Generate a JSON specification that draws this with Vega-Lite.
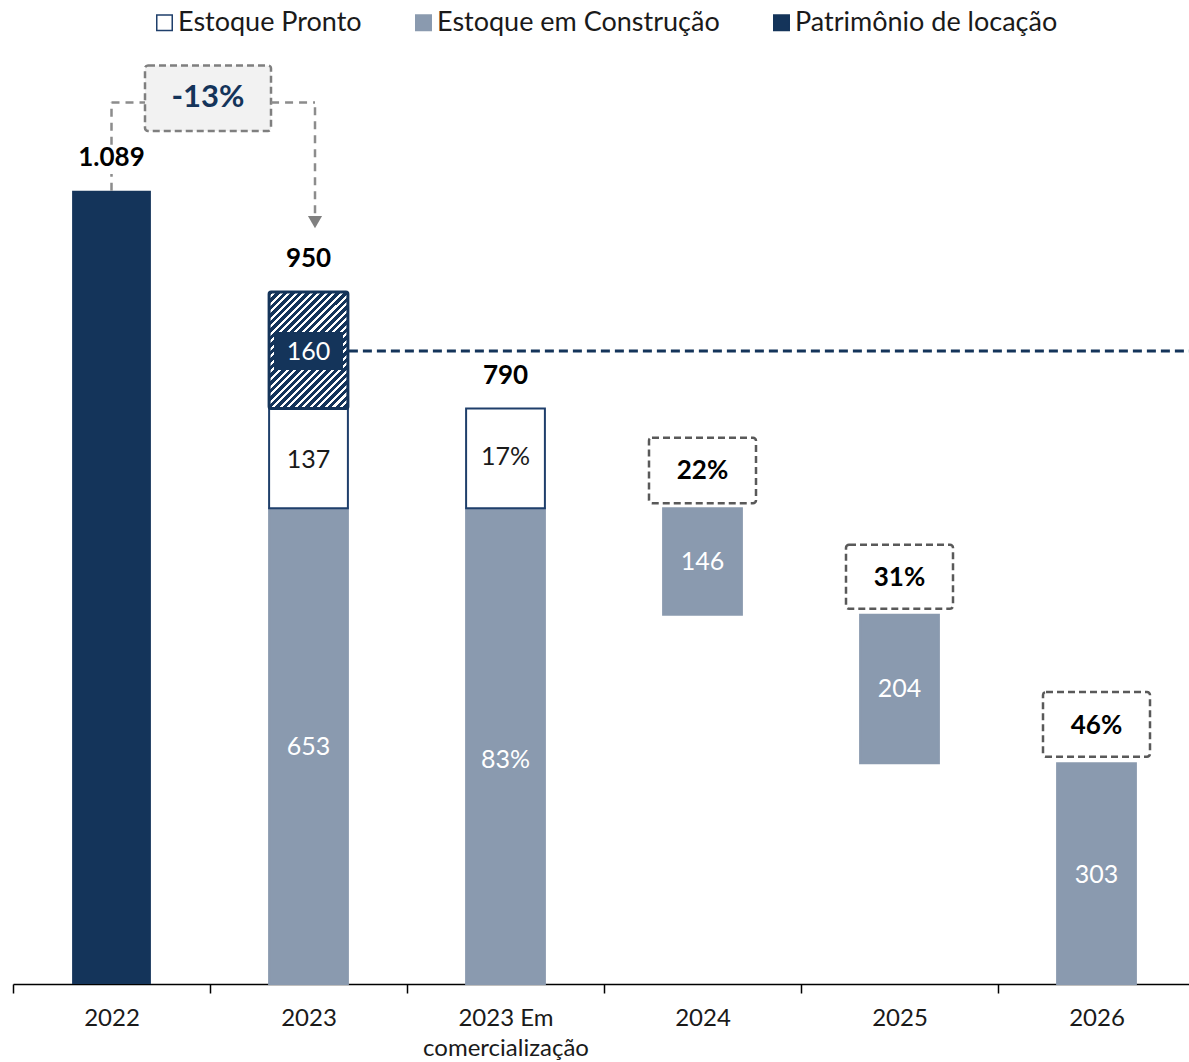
{
  "$schema": "https://vega.github.io/schema/vega-lite/v6.json",
  "width": 1176,
  "height": 947,
  "autosize": {"type": "none"},
  "padding": {"left": 13, "top": 37, "right": 0, "bottom": 78},
  "background": "white",
  "config": {
    "view": {"stroke": null},
    "font": "Lato",
    "axis": {"grid": false},
    "legend": {"padding": 0}
  },
  "encoding": {
    "x": {
      "field": "cat",
      "type": "nominal",
      "sort": ["2022", "2023", "2023 Em comercialização", "2024", "2025", "2026"],
      "scale": {"domain": ["2022", "2023", "2023 Em comercialização", "2024", "2025", "2026"], "range": [0, 1182], "paddingInner": 0, "paddingOuter": 0},
      "axis": {
        "title": null,
        "labelAngle": 0,
        "labelFontSize": 24,
        "labelColor": "#1a1a1a",
        "labelPadding": 13,
        "labelLineHeight": 30,
        "labelBaseline": "top",
        "domainColor": "#000000",
        "domainWidth": 1.5,
        "tickColor": "#000000",
        "tickWidth": 1.5,
        "tickSize": 9,
        "tickBand": "extent",
        "labelExpr": "datum.label == '2023 Em comercialização' ? ['2023 Em', 'comercialização'] : datum.label"
      }
    }
  },
  "layer": [
    {
      "data": {"values": [{"cat": "2022", "lo": 0, "hi": 1089}]},
      "mark": {"type": "bar", "width": {"band": 0.4}, "color": "#14345A"},
      "encoding": {
        "y": {"field": "lo", "type": "quantitative", "scale": {"domain": [0, 1300]}, "axis": null},
        "y2": {"field": "hi"}
      }
    },
    {
      "data": {"values": [
        {"cat": "2023", "lo": 0, "hi": 653, "kind": "Estoque em Construção"},
        {"cat": "2023", "lo": 653, "hi": 790, "kind": "Estoque Pronto"},
        {"cat": "2023 Em comercialização", "lo": 0, "hi": 653, "kind": "Estoque em Construção"},
        {"cat": "2023 Em comercialização", "lo": 653, "hi": 790, "kind": "Estoque Pronto"},
        {"cat": "2024", "lo": 507, "hi": 653, "kind": "Estoque em Construção"},
        {"cat": "2025", "lo": 303, "hi": 507, "kind": "Estoque em Construção"},
        {"cat": "2026", "lo": 0, "hi": 303, "kind": "Estoque em Construção"}
      ]},
      "mark": {"type": "bar", "width": {"band": 0.4}, "strokeWidth": 2},
      "encoding": {
        "y": {"field": "lo", "type": "quantitative", "scale": {"domain": [0, 1300]}, "axis": null},
        "y2": {"field": "hi"},
        "fill": {
          "field": "kind", "type": "nominal",
          "scale": {"domain": ["Estoque Pronto", "Estoque em Construção", "Patrimônio de locação"], "range": ["#ffffff", "#8A9AAF", "#14345A"]},
          "legend": {
            "title": null,
            "orient": "none",
            "direction": "horizontal",
            "legendX": 138,
            "legendY": -28,
            "symbolType": "square",
            "symbolSize": 240,
            "symbolStrokeWidth": 1.5,
            "labelFontSize": 27,
            "labelColor": "#1a1a1a",
            "labelOffset": 0,
            "columnPadding": 48,
            "labelLimit": 400
          }
        },
        "stroke": {
          "field": "kind", "type": "nominal",
          "scale": {"domain": ["Estoque Pronto", "Estoque em Construção", "Patrimônio de locação"], "range": ["#1F3F6B", "#8A9AAF", "#14345A"]},
          "legend": {
            "title": null,
            "orient": "none",
            "direction": "horizontal",
            "legendX": 138,
            "legendY": -28,
            "symbolType": "square",
            "symbolSize": 240,
            "symbolStrokeWidth": 1.5,
            "labelFontSize": 27,
            "labelColor": "#1a1a1a",
            "labelOffset": 0,
            "columnPadding": 48,
            "labelLimit": 400
          }
        }
      }
    },
    {
      "data": {"values": [{"cat": "2023", "lo": 790, "hi": 950, "kind": "Patrimônio de locação"}]},
      "mark": {
        "type": "bar", "width": {"band": 0.4}, "stroke": "#14345A", "strokeWidth": 3, "cornerRadius": 2,
        "fill": {
          "gradient": "linear", "x1": 0, "y1": 0, "x2": 1, "y2": 1.48,
          "stops": [
            {"offset": 0, "color": "#14345A"}, {"offset": 0.018, "color": "#14345A"}, {"offset": 0.018, "color": "#ffffff"}, {"offset": 0.03, "color": "#ffffff"},
            {"offset": 0.03, "color": "#14345A"}, {"offset": 0.048, "color": "#14345A"}, {"offset": 0.048, "color": "#ffffff"}, {"offset": 0.06, "color": "#ffffff"},
            {"offset": 0.06, "color": "#14345A"}, {"offset": 0.078, "color": "#14345A"}, {"offset": 0.078, "color": "#ffffff"}, {"offset": 0.09, "color": "#ffffff"},
            {"offset": 0.09, "color": "#14345A"}, {"offset": 0.108, "color": "#14345A"}, {"offset": 0.108, "color": "#ffffff"}, {"offset": 0.12, "color": "#ffffff"},
            {"offset": 0.12, "color": "#14345A"}, {"offset": 0.138, "color": "#14345A"}, {"offset": 0.138, "color": "#ffffff"}, {"offset": 0.15, "color": "#ffffff"},
            {"offset": 0.15, "color": "#14345A"}, {"offset": 0.168, "color": "#14345A"}, {"offset": 0.168, "color": "#ffffff"}, {"offset": 0.18, "color": "#ffffff"},
            {"offset": 0.18, "color": "#14345A"}, {"offset": 0.198, "color": "#14345A"}, {"offset": 0.198, "color": "#ffffff"}, {"offset": 0.21, "color": "#ffffff"},
            {"offset": 0.21, "color": "#14345A"}, {"offset": 0.228, "color": "#14345A"}, {"offset": 0.228, "color": "#ffffff"}, {"offset": 0.24, "color": "#ffffff"},
            {"offset": 0.24, "color": "#14345A"}, {"offset": 0.258, "color": "#14345A"}, {"offset": 0.258, "color": "#ffffff"}, {"offset": 0.27, "color": "#ffffff"},
            {"offset": 0.27, "color": "#14345A"}, {"offset": 0.288, "color": "#14345A"}, {"offset": 0.288, "color": "#ffffff"}, {"offset": 0.30, "color": "#ffffff"},
            {"offset": 0.30, "color": "#14345A"}, {"offset": 0.318, "color": "#14345A"}, {"offset": 0.318, "color": "#ffffff"}, {"offset": 0.33, "color": "#ffffff"},
            {"offset": 0.33, "color": "#14345A"}, {"offset": 0.348, "color": "#14345A"}, {"offset": 0.348, "color": "#ffffff"}, {"offset": 0.36, "color": "#ffffff"},
            {"offset": 0.36, "color": "#14345A"}, {"offset": 0.378, "color": "#14345A"}, {"offset": 0.378, "color": "#ffffff"}, {"offset": 0.39, "color": "#ffffff"},
            {"offset": 0.39, "color": "#14345A"}, {"offset": 0.408, "color": "#14345A"}, {"offset": 0.408, "color": "#ffffff"}, {"offset": 0.42, "color": "#ffffff"},
            {"offset": 0.42, "color": "#14345A"}, {"offset": 0.438, "color": "#14345A"}, {"offset": 0.438, "color": "#ffffff"}, {"offset": 0.45, "color": "#ffffff"},
            {"offset": 0.45, "color": "#14345A"}, {"offset": 0.468, "color": "#14345A"}, {"offset": 0.468, "color": "#ffffff"}, {"offset": 0.48, "color": "#ffffff"},
            {"offset": 0.48, "color": "#14345A"}, {"offset": 0.498, "color": "#14345A"}, {"offset": 0.498, "color": "#ffffff"}, {"offset": 0.51, "color": "#ffffff"},
            {"offset": 0.51, "color": "#14345A"}, {"offset": 0.528, "color": "#14345A"}, {"offset": 0.528, "color": "#ffffff"}, {"offset": 0.54, "color": "#ffffff"},
            {"offset": 0.54, "color": "#14345A"}, {"offset": 0.558, "color": "#14345A"}, {"offset": 0.558, "color": "#ffffff"}, {"offset": 0.57, "color": "#ffffff"},
            {"offset": 0.57, "color": "#14345A"}, {"offset": 0.588, "color": "#14345A"}, {"offset": 0.588, "color": "#ffffff"}, {"offset": 0.60, "color": "#ffffff"},
            {"offset": 0.60, "color": "#14345A"}, {"offset": 0.618, "color": "#14345A"}, {"offset": 0.618, "color": "#ffffff"}, {"offset": 0.63, "color": "#ffffff"},
            {"offset": 0.63, "color": "#14345A"}, {"offset": 0.648, "color": "#14345A"}, {"offset": 0.648, "color": "#ffffff"}, {"offset": 0.66, "color": "#ffffff"},
            {"offset": 0.66, "color": "#14345A"}, {"offset": 0.678, "color": "#14345A"}, {"offset": 0.678, "color": "#ffffff"}, {"offset": 0.69, "color": "#ffffff"},
            {"offset": 0.69, "color": "#14345A"}, {"offset": 0.708, "color": "#14345A"}, {"offset": 0.708, "color": "#ffffff"}, {"offset": 0.72, "color": "#ffffff"},
            {"offset": 0.72, "color": "#14345A"}, {"offset": 0.738, "color": "#14345A"}, {"offset": 0.738, "color": "#ffffff"}, {"offset": 0.75, "color": "#ffffff"},
            {"offset": 0.75, "color": "#14345A"}, {"offset": 0.768, "color": "#14345A"}, {"offset": 0.768, "color": "#ffffff"}, {"offset": 0.78, "color": "#ffffff"},
            {"offset": 0.78, "color": "#14345A"}, {"offset": 0.798, "color": "#14345A"}, {"offset": 0.798, "color": "#ffffff"}, {"offset": 0.81, "color": "#ffffff"},
            {"offset": 0.81, "color": "#14345A"}, {"offset": 1, "color": "#14345A"}
          ]
        }
      },
      "encoding": {
        "y": {"field": "lo", "type": "quantitative", "scale": {"domain": [0, 1300]}, "axis": null},
        "y2": {"field": "hi"}
      }
    },
    {
      "data": {"values": [{"cat": "2023", "lo": 843, "hi": 895}]},
      "mark": {"type": "bar", "width": {"band": 0.35}, "color": "#14345A"},
      "encoding": {
        "y": {"field": "lo", "type": "quantitative", "scale": {"domain": [0, 1300]}, "axis": null},
        "y2": {"field": "hi"}
      }
    },
    {
      "data": {"values": [
        {"cat": "2023", "ly": 325, "txt": "653", "kind": "Estoque em Construção"},
        {"cat": "2023", "ly": 719, "txt": "137", "kind": "Estoque Pronto"},
        {"cat": "2023", "ly": 868, "txt": "160", "kind": "Patrimônio de locação"},
        {"cat": "2023 Em comercialização", "ly": 307, "txt": "83%", "kind": "Estoque em Construção"},
        {"cat": "2023 Em comercialização", "ly": 723, "txt": "17%", "kind": "Estoque Pronto"},
        {"cat": "2024", "ly": 579, "txt": "146", "kind": "Estoque em Construção"},
        {"cat": "2025", "ly": 405, "txt": "204", "kind": "Estoque em Construção"},
        {"cat": "2026", "ly": 150, "txt": "303", "kind": "Estoque em Construção"}
      ]},
      "mark": {"type": "text", "fontSize": 25, "baseline": "middle", "align": "center"},
      "encoding": {
        "y": {"field": "ly", "type": "quantitative", "scale": {"domain": [0, 1300]}, "axis": null},
        "text": {"field": "txt"},
        "color": {"condition": {"test": "datum.kind == 'Estoque Pronto'", "value": "#1a1a1a"}, "value": "#ffffff"}
      }
    },
    {
      "data": {"values": [
        {"cat": "2022", "top": 1089, "txt": "1.089"},
        {"cat": "2023", "top": 950, "txt": "950"},
        {"cat": "2023 Em comercialização", "top": 790, "txt": "790"}
      ]},
      "mark": {"type": "text", "fontSize": 26, "fontWeight": "bold", "baseline": "middle", "align": "center", "dy": -33, "color": "#000000"},
      "encoding": {
        "y": {"field": "top", "type": "quantitative", "scale": {"domain": [0, 1300]}, "axis": null},
        "text": {"field": "txt"}
      }
    },
    {
      "data": {"values": [
        {"cat": "2024", "lo": 660, "hi": 750},
        {"cat": "2025", "lo": 515, "hi": 603},
        {"cat": "2026", "lo": 312, "hi": 401}
      ]},
      "mark": {"type": "bar", "width": 107, "fill": "#ffffff", "stroke": "#595959", "strokeWidth": 2.5, "strokeDash": [7, 4], "cornerRadius": 3},
      "encoding": {
        "y": {"field": "lo", "type": "quantitative", "scale": {"domain": [0, 1300]}, "axis": null},
        "y2": {"field": "hi"}
      }
    },
    {
      "data": {"values": [
        {"cat": "2024", "ly": 704, "txt": "22%"},
        {"cat": "2025", "ly": 557, "txt": "31%"},
        {"cat": "2026", "ly": 354, "txt": "46%"}
      ]},
      "mark": {"type": "text", "fontSize": 26, "fontWeight": "bold", "baseline": "middle", "align": "center", "color": "#000000"},
      "encoding": {
        "y": {"field": "ly", "type": "quantitative", "scale": {"domain": [0, 1300]}, "axis": null},
        "text": {"field": "txt"}
      }
    },
    {
      "data": {"values": [{"cat": "2022", "lo": 1171, "hi": 1261}]},
      "mark": {"type": "bar", "width": 126, "xOffset": 96.5, "fill": "#F2F2F2", "stroke": "#7F7F7F", "strokeWidth": 2.5, "strokeDash": [7, 4], "cornerRadius": 3},
      "encoding": {
        "y": {"field": "lo", "type": "quantitative", "scale": {"domain": [0, 1300]}, "axis": null},
        "y2": {"field": "hi"}
      }
    },
    {
      "data": {"values": [{"cat": "2022", "ly": 1216, "txt": "-13%"}]},
      "mark": {"type": "text", "fontSize": 31, "fontWeight": "bold", "baseline": "middle", "align": "center", "dx": 96.5, "color": "#14345A"},
      "encoding": {
        "y": {"field": "ly", "type": "quantitative", "scale": {"domain": [0, 1300]}, "axis": null},
        "text": {"field": "txt"}
      }
    },
    {
      "data": {"values": [{"lo": 1089, "hi": 1112}, {"lo": 1152, "hi": 1210}]},
      "mark": {"type": "rule", "color": "#8C8C8C", "strokeWidth": 2.5, "strokeDash": [8, 6]},
      "encoding": {
        "x": {"datum": "2022", "bandPosition": 0.5},
        "y": {"field": "lo", "type": "quantitative", "scale": {"domain": [0, 1300]}, "axis": null},
        "y2": {"field": "hi"}
      }
    },
    {
      "data": {"values": [{"lvl": 1210}]},
      "mark": {"type": "rule", "color": "#8C8C8C", "strokeWidth": 2.5, "strokeDash": [8, 6]},
      "encoding": {
        "x": {"datum": "2022", "bandPosition": 0.5},
        "x2": {"datum": "2022", "bandPosition": 0.67},
        "y": {"field": "lvl", "type": "quantitative", "scale": {"domain": [0, 1300]}, "axis": null}
      }
    },
    {
      "data": {"values": [{"lvl": 1210}]},
      "mark": {"type": "rule", "color": "#8C8C8C", "strokeWidth": 2.5, "strokeDash": [8, 6]},
      "encoding": {
        "x": {"datum": "2023", "bandPosition": 0.31},
        "x2": {"datum": "2023", "bandPosition": 0.533},
        "y": {"field": "lvl", "type": "quantitative", "scale": {"domain": [0, 1300]}, "axis": null}
      }
    },
    {
      "data": {"values": [{"lo": 1058, "hi": 1210}]},
      "mark": {"type": "rule", "color": "#8C8C8C", "strokeWidth": 2.5, "strokeDash": [8, 6]},
      "encoding": {
        "x": {"datum": "2023", "bandPosition": 0.533},
        "y": {"field": "lo", "type": "quantitative", "scale": {"domain": [0, 1300]}, "axis": null},
        "y2": {"field": "hi"}
      }
    },
    {
      "data": {"values": [{"lvl": 1046}]},
      "mark": {"type": "point", "shape": "triangle-down", "size": 200, "filled": true, "color": "#808080", "opacity": 1},
      "encoding": {
        "x": {"datum": "2023", "bandPosition": 0.533},
        "y": {"field": "lvl", "type": "quantitative", "scale": {"domain": [0, 1300]}, "axis": null}
      }
    },
    {
      "data": {"values": [{"lvl": 869}]},
      "mark": {"type": "rule", "color": "#14345A", "strokeWidth": 3, "strokeDash": [9, 5]},
      "encoding": {
        "x": {"datum": "2023", "bandPosition": 0.705},
        "x2": {"datum": "2026", "bandPosition": 1},
        "y": {"field": "lvl", "type": "quantitative", "scale": {"domain": [0, 1300]}, "axis": null}
      }
    }
  ]
}
